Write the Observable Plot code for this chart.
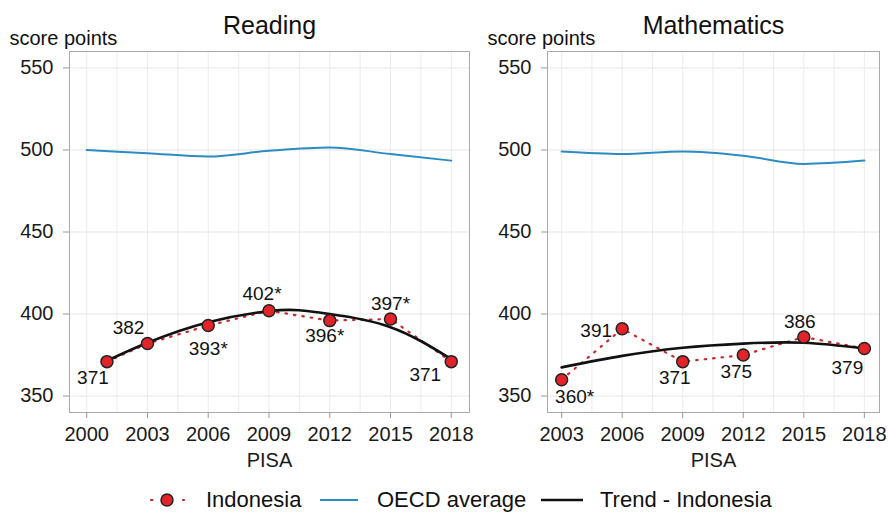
<!DOCTYPE html>
<html>
<head>
<meta charset="utf-8">
<script src="https://cdn.jsdelivr.net/npm/d3@7"></script>
<script src="https://cdn.jsdelivr.net/npm/@observablehq/plot@0.6"></script>
<style>
  html, body { margin: 0; padding: 0; background: #fff; }
  #wrap { position: relative; width: 888px; height: 513px; overflow: hidden; font-family: "Liberation Sans", Arial, sans-serif; }
  #reading { position: absolute; left: 0; top: 0; }
  #math { position: absolute; left: 476px; top: 0; }
  #legend { position: absolute; left: 0; top: 480px; }
</style>
</head>
<body>
<div id="wrap">
  <div id="reading"></div>
  <div id="math"></div>
  <svg id="legend" width="888" height="33"></svg>
</div>
<script>
// ---------- data ----------
const yTicks = [350, 400, 450, 500, 550];

const readingTicks = [2000, 2003, 2006, 2009, 2012, 2015, 2018];
const readingYears = [2001, 2003, 2006, 2009, 2012, 2015, 2018];
const readingIndonesia = [371, 382, 393, 402, 396, 397, 371];
const readingLabels = ["371", "382", "393*", "402*", "396*", "397*", "371"];
const readingOecdYears = [2000, 2003, 2006, 2009, 2012, 2015, 2018];
const readingOecd = [500, 498, 496, 499.5, 501.5, 497.5, 493.5];
const readingTrendYears = [2001, 2003, 2006, 2009, 2010.5, 2012, 2015, 2018];
const readingTrend = [371.5, 382.5, 395, 401.8, 402.3, 400, 392, 372.5];

const mathTicks = [2003, 2006, 2009, 2012, 2015, 2018];
const mathYears = [2003, 2006, 2009, 2012, 2015, 2018];
const mathIndonesia = [360, 391, 371, 375, 386, 379];
const mathLabels = ["360*", "391", "371", "375", "386", "379"];
const mathOecd = [499, 497.5, 499, 496.5, 491.5, 493.5];
const mathTrend = [367.5, 374.5, 379.5, 382, 382.5, 379];

// ---------- layout (label placement, px offsets) ----------
const readingLabelOffsets = [[-14, 16], [-19, -16], [0, 23], [-7, -17], [-5, 15], [0, -15], [-26, 13]];
const mathLabelOffsets = [[13, 17], [-26, 2], [-8, 16], [-7, 17], [-4, -15], [-17, 19]];

const RED = "#e3232a", REDLINE = "#c62a30", BLUE = "#2b8cc4";
const FONT = "Liberation Sans, Arial, sans-serif";

function panel({title, width, marginLeft, marginRight, xDomain, ticks, gridStart,
                years, indo, labels, offsets, oecdYears, oecd, trendYears, trend}) {
  const indoData = years.map((x, i) => ({x, y: indo[i], label: labels[i]}));
  const oecdData = oecdYears.map((x, i) => ({x, y: oecd[i]}));
  const trendData = trendYears.map((x, i) => ({x, y: trend[i]}));
  const grid = d3.range(gridStart, 2018.01, 1.5);
  return Plot.plot({
    width, height: 480,
    marginLeft, marginRight, marginTop: 51, marginBottom: 68,
    style: {fontFamily: FONT, fontSize: "20px", background: "#fff", color: "#222", overflow: "visible"},
    x: {domain: xDomain},
    y: {domain: [340, 560]},
    marks: [
      Plot.ruleX(grid, {stroke: "#ebebeb", strokeWidth: 1}),
      Plot.ruleY(yTicks, {stroke: "#e6e6e6", strokeWidth: 1}),
      Plot.frame({stroke: "#aaa", strokeWidth: 1}),
      Plot.axisY({ticks: yTicks, tickSize: 6, tickPadding: 10, stroke: "#999", fill: "#1a1a1a", fontSize: 20, label: null, tickFormat: d => String(d)}),
      Plot.axisX({ticks, tickSize: 6, tickPadding: 8, stroke: "#999", fill: "#1a1a1a", fontSize: 20, label: null, tickFormat: d => String(d)}),
      Plot.line(oecdData, {x: "x", y: "y", stroke: BLUE, strokeWidth: 2, curve: "monotone-x"}),
      Plot.line(indoData, {x: "x", y: "y", stroke: REDLINE, strokeWidth: 2.2, strokeDasharray: "1.5,7", strokeLinecap: "round"}),
      Plot.line(trendData, {x: "x", y: "y", stroke: "#111", strokeWidth: 2.6, curve: "natural"}),
      Plot.dot(indoData, {x: "x", y: "y", r: 6, fill: RED, stroke: "#222", strokeWidth: 1.5}),
      ...indoData.map((d, i) => Plot.text([d], {x: "x", y: "y", text: "label", dx: offsets[i][0], dy: offsets[i][1],
        fontSize: 19, fill: "#111", lineAnchor: "middle", textAnchor: "middle"})),
      Plot.text([title], {frameAnchor: "top", dy: -26, fontSize: 25, fill: "#111", lineAnchor: "middle"}),
      Plot.text(["score points"], {frameAnchor: "top-left", dx: -60, dy: -12.5, fontSize: 20, fill: "#111", textAnchor: "start", lineAnchor: "middle"}),
      Plot.text(["PISA"], {frameAnchor: "bottom", dy: 48, fontSize: 20, fill: "#1a1a1a", lineAnchor: "middle"})
    ]
  });
}

document.getElementById("reading").append(panel({
  title: "Reading", width: 476, marginLeft: 69, marginRight: 7,
  xDomain: [1999.15, 2018.9], ticks: readingTicks, gridStart: 2000,
  years: readingYears, indo: readingIndonesia, labels: readingLabels, offsets: readingLabelOffsets,
  oecdYears: readingOecdYears, oecd: readingOecd, trendYears: readingTrendYears, trend: readingTrend
}));

document.getElementById("math").append(panel({
  title: "Mathematics", width: 412, marginLeft: 71, marginRight: 9,
  xDomain: [2002.3, 2018.75], ticks: mathTicks, gridStart: 2003,
  years: mathYears, indo: mathIndonesia, labels: mathLabels, offsets: mathLabelOffsets,
  oecdYears: mathYears, oecd: mathOecd, trendYears: mathYears, trend: mathTrend
}));

// ---------- legend ----------
const lg = document.getElementById("legend");
const ns = "http://www.w3.org/2000/svg";
function el(tag, attrs, text) {
  const e = document.createElementNS(ns, tag);
  for (const k in attrs) e.setAttribute(k, attrs[k]);
  if (text) e.textContent = text;
  lg.appendChild(e);
  return e;
}
const ly = 20, ty = 27;
el("line", {x1: 151, x2: 184, y1: ly, y2: ly, stroke: REDLINE, "stroke-width": 2.2, "stroke-dasharray": "1.5,14.5", "stroke-linecap": "round"});
el("circle", {cx: 167, cy: ly, r: 6, fill: RED, stroke: "#222", "stroke-width": 1.5});
el("text", {x: 206, y: ty, "font-family": FONT, "font-size": 22, fill: "#111"}, "Indonesia");
el("line", {x1: 320, x2: 358, y1: ly, y2: ly, stroke: BLUE, "stroke-width": 2});
el("text", {x: 377, y: ty, "font-family": FONT, "font-size": 22, fill: "#111"}, "OECD average");
el("line", {x1: 541, x2: 583, y1: ly, y2: ly, stroke: "#111", "stroke-width": 2.6});
el("text", {x: 600, y: ty, "font-family": FONT, "font-size": 22, fill: "#111"}, "Trend - Indonesia");
</script>
</body>
</html>
